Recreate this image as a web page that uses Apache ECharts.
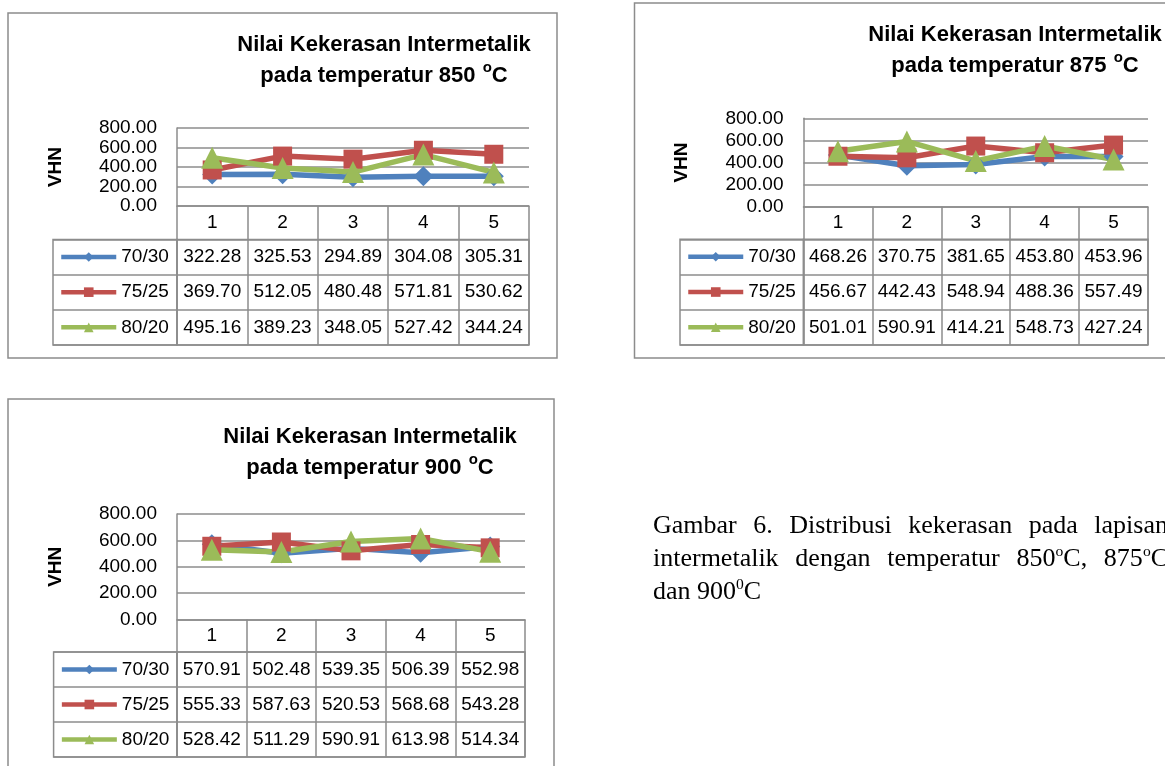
<!DOCTYPE html>
<html>
<head>
<meta charset="utf-8">
<script src="https://cdn.jsdelivr.net/npm/echarts@6/dist/echarts.min.js"></script>
<style>
  html, body { margin: 0; padding: 0; background: #fff; }
  #main { position: absolute; left: 0; top: 0; width: 1165px; height: 766px; }
  .caption {
    position: absolute;
    left: 653px;
    width: 515px;
    font-family: "Liberation Serif", "Times New Roman", serif;
    font-size: 26px;
    line-height: 33px;
    color: #000;
    text-align: justify;
    text-align-last: justify;
  }
  .caption.last { text-align: left; text-align-last: left; }
  .caption sup { font-size: 0.6em; line-height: 0; vertical-align: baseline; position: relative; top: -0.62em; }
</style>
</head>
<body>
<div id="main"></div>
<div class="caption" style="top:508px">Gambar 6. Distribusi kekerasan pada lapisan</div>
<div class="caption" style="top:541px">intermetalik dengan temperatur 850<sup>o</sup>C, 875<sup>o</sup>C</div>
<div class="caption last" style="top:574px">dan 900<sup>0</sup>C</div>

<script>
  // data dibaca dari tabel di bawah tiap grafik
  var categories = ['1', '2', '3', '4', '5'];
  var seriesNames = ['70/30', '75/25', '80/20'];
  var temperatures = ['850', '875', '900'];

  var t850_7030 = [322.28, 325.53, 294.89, 304.08, 305.31];
  var t850_7525 = [369.70, 512.05, 480.48, 571.81, 530.62];
  var t850_8020 = [495.16, 389.23, 348.05, 527.42, 344.24];

  var t875_7030 = [468.26, 370.75, 381.65, 453.80, 453.96];
  var t875_7525 = [456.67, 442.43, 548.94, 488.36, 557.49];
  var t875_8020 = [501.01, 590.91, 414.21, 548.73, 427.24];

  var t900_7030 = [570.91, 502.48, 539.35, 506.39, 552.98];
  var t900_7525 = [555.33, 587.63, 520.53, 568.68, 543.28];
  var t900_8020 = [528.42, 511.29, 590.91, 613.98, 514.34];

  var yMin = 0, yMax = 800, yStep = 200;

  var chartData = [
    [t850_7030, t850_7525, t850_8020],
    [t875_7030, t875_7525, t875_8020],
    [t900_7030, t900_7525, t900_8020]
  ];

  // posisi tiap "chart object" (px, koordinat halaman)
  var layouts = [
    { frame: [8, 13, 549, 345], titleX: 384, titleTop: 29, plot: [177, 128, 352, 78], headerBottom: 239.5, tableBottom: 345, legendLeft: 53 },
    { frame: [634.5, 3, 560, 355], titleX: 1015, titleTop: 19.5, plot: [803.5, 118.3, 344.5, 88.4], headerBottom: 239.3, tableBottom: 345, legendLeft: 680 },
    { frame: [8, 399, 546, 400], titleX: 370, titleTop: 421.5, plot: [177, 514, 348, 105.5], headerBottom: 652, tableBottom: 757, legendLeft: 53.6 }
  ];

  var COLORS = ['#4F81BD', '#C0504D', '#9BBB59'];
  var SYMBOLS = ['diamond', 'rect', 'triangle'];
  var SYMBOL_SIZES = [20, 19, 22];
  var GRAY = '#8c8c8c';
  var FONT = '"Liberation Sans", Arial, sans-serif';

  var myChart = echarts.init(document.getElementById('main'));

  var grid = [], xAxis = [], yAxis = [], series = [], legend = [], title = [], graphic = [];

  layouts.forEach(function (L, i) {
    var plotBottom = L.plot[1] + L.plot[3];
    var tableH = L.tableBottom - L.headerBottom;

    // bingkai chart
    graphic.push({
      type: 'rect', silent: true,
      shape: { x: L.frame[0], y: L.frame[1], width: L.frame[2], height: L.frame[3] },
      style: { fill: 'none', stroke: GRAY, lineWidth: 1.5 }
    });

    title.push({
      text: 'Nilai Kekerasan Intermetalik\npada temperatur ' + temperatures[i] + ' {sup|o}C',
      left: L.titleX, top: L.titleTop, textAlign: 'center', padding: 0,
      textStyle: {
        fontFamily: FONT, fontSize: 22, fontWeight: 'bold', color: '#000', lineHeight: 31,
        rich: { sup: { fontFamily: FONT, fontSize: 15, fontWeight: 'bold', color: '#000', verticalAlign: 'top', lineHeight: 12, padding: [0, 0, 0, 1] } }
      }
    });

    // grid plot, grid tabel, kolom legend
    grid.push({ left: L.plot[0], top: L.plot[1], width: L.plot[2], height: L.plot[3], show: false });
    grid.push({ left: L.plot[0], top: L.headerBottom, width: L.plot[2], height: tableH, show: true, borderColor: GRAY, borderWidth: 1.5 });
    grid.push({ left: L.legendLeft, top: L.headerBottom, width: L.plot[0] - L.legendLeft, height: tableH, show: true, borderColor: GRAY, borderWidth: 1.5 });

    xAxis.push({
      gridIndex: 3 * i, type: 'category', data: categories, boundaryGap: true,
      axisLine: { lineStyle: { color: GRAY, width: 1.5 } },
      axisTick: { show: true, interval: 0, length: L.headerBottom - plotBottom, lineStyle: { color: GRAY, width: 1.5 } },
      axisLabel: { interval: 0, margin: (L.headerBottom - plotBottom) / 2, verticalAlign: 'middle', fontFamily: FONT, fontSize: 19, color: '#000' },
      splitLine: { show: false }
    });
    xAxis.push({
      gridIndex: 3 * i + 1, type: 'category', data: categories, boundaryGap: true,
      axisLine: { show: false }, axisTick: { show: false }, axisLabel: { show: false },
      splitLine: { show: true, interval: 0, lineStyle: { color: GRAY, width: 1.5 } }
    });
    xAxis.push({ gridIndex: 3 * i + 2, type: 'value', show: false });

    yAxis.push({
      gridIndex: 3 * i, type: 'value', min: yMin, max: yMax, interval: yStep,
      name: 'VHN', nameLocation: 'middle', nameRotate: 90, nameGap: 112,
      nameTextStyle: { fontFamily: FONT, fontSize: 19, fontWeight: 'bold', color: '#000' },
      axisLine: { show: true, lineStyle: { color: GRAY, width: 1.5 } },
      axisTick: { show: false },
      axisLabel: { margin: 20, fontFamily: FONT, fontSize: 19, color: '#000', formatter: function (v) { return v.toFixed(2); } },
      splitLine: { lineStyle: { color: GRAY, width: 1.5 } }
    });
    yAxis.push({
      gridIndex: 3 * i + 1, type: 'category', data: seriesNames, inverse: true,
      axisLine: { show: false }, axisTick: { show: false }, axisLabel: { show: false },
      splitLine: { show: true, interval: 0, lineStyle: { color: GRAY, width: 1.5 } }
    });
    yAxis.push({
      gridIndex: 3 * i + 2, type: 'category', data: seriesNames, inverse: true,
      axisLine: { show: false }, axisTick: { show: false }, axisLabel: { show: false },
      splitLine: { show: true, interval: 0, lineStyle: { color: GRAY, width: 1.5 } }
    });

    // garis data
    chartData[i].forEach(function (vals, k) {
      series.push({
        name: seriesNames[k], type: 'line', xAxisIndex: 3 * i, yAxisIndex: 3 * i,
        data: vals, symbol: SYMBOLS[k], symbolSize: SYMBOL_SIZES[k],
        color: COLORS[k],
        lineStyle: { width: 5.5, color: COLORS[k] },
        itemStyle: { color: COLORS[k] },
        silent: true, animation: false
      });
    });

    // isi tabel data
    var cells = [];
    chartData[i].forEach(function (vals, k) {
      vals.forEach(function (v, j) { cells.push([categories[j], seriesNames[k], v]); });
    });
    series.push({
      name: 'tabel', type: 'scatter', xAxisIndex: 3 * i + 1, yAxisIndex: 3 * i + 1,
      data: cells, symbolSize: 1, itemStyle: { color: 'rgba(0,0,0,0)' },
      label: {
        show: true, position: 'inside', fontFamily: FONT, fontSize: 19, color: '#000',
        textBorderWidth: 0, opacity: 1,
        formatter: function (p) { return p.value[2].toFixed(2); }
      },
      silent: true, animation: false
    });

    legend.push({
      data: seriesNames, orient: 'vertical', left: L.legendLeft + 6, top: L.headerBottom,
      padding: 0, itemWidth: 55, itemHeight: 12, itemGap: tableH / 3 - 35,
      selectedMode: false,
      lineStyle: { width: 4.5 },
      textStyle: { fontFamily: FONT, fontSize: 19, color: '#000', lineHeight: 35 }
    });
  });

  var option = {
    backgroundColor: '#fff',
    animation: false,
    title: title,
    legend: legend,
    grid: grid,
    xAxis: xAxis,
    yAxis: yAxis,
    series: series,
    graphic: graphic
  };

  myChart.setOption(option);
</script>
</body>
</html>
